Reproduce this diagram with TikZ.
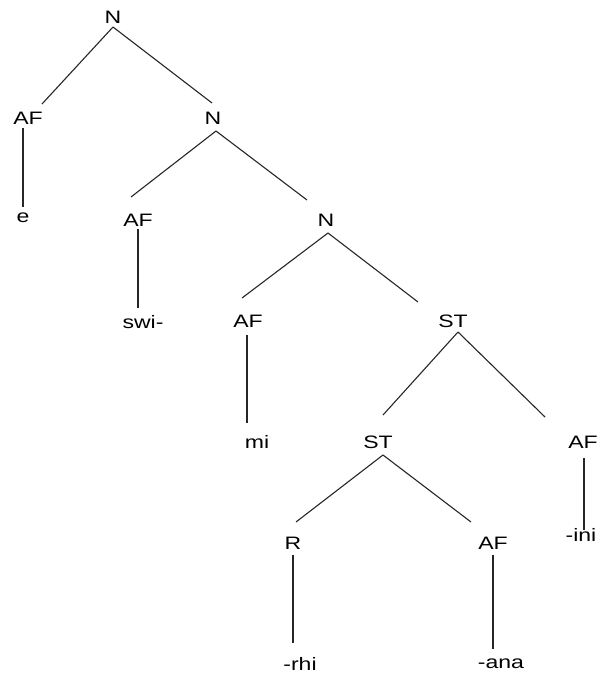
\documentclass[tikz,border=0pt]{standalone}
\usepackage{fontspec}
\setmainfont{Liberation Sans}[FakeStretch=1.28]
\begin{document}
\begin{tikzpicture}[x=1pt,y=-1pt,
  lbl/.style={inner sep=0pt, anchor=center, font=\fontsize{18}{21}\selectfont, text=black},
  edge/.style={draw=black!85, line width=1.1pt}]
\useasboundingbox (0,0) rectangle (598,675);
\node[lbl] (N1) at (113,17) {N};
\node[lbl] (AF1) at (28,118) {AF};
\node[lbl] (N2) at (213,118) {N};
\node[lbl] (e) at (23,218) {e};
\node[lbl] (AF2) at (138,220) {AF};
\node[lbl] (N3) at (326,220) {N};
\node[lbl] (swi) at (143,322) {swi-};
\node[lbl] (AF3) at (248,321) {AF};
\node[lbl] (ST1) at (453,321) {ST};
\node[lbl] (mi) at (257,442) {mi};
\node[lbl] (ST2) at (378,442) {ST};
\node[lbl] (AF4) at (583,442) {AF};
\node[lbl] (R) at (293,543) {R};
\node[lbl] (AF5) at (493,543) {AF};
\node[lbl] (ini) at (581,535) {-ini};
\node[lbl] (rhi) at (300,664) {-rhi};
\node[lbl] (ana) at (501,664) {-ana};

\draw[edge] ([yshift=-10pt]N1.center) -- ([xshift=14pt,yshift=14pt]AF1.center);
\draw[edge] ([yshift=-10pt]N1.center) -- ([xshift=-1pt,yshift=15pt]N2.center);
\draw[edge] ([xshift=-5pt,yshift=-10pt]AF1.center) -- ([yshift=11pt]e.center);
\draw[edge] ([xshift=3pt,yshift=-13pt]N2.center) -- ([xshift=-7pt,yshift=23pt]AF2.center);
\draw[edge] ([xshift=3pt,yshift=-13pt]N2.center) -- ([xshift=-19pt,yshift=20pt]N3.center);
\draw[edge] ([yshift=-9pt]AF2.center) -- ([xshift=-5pt,yshift=14pt]swi.center);
\draw[edge] ([xshift=2pt,yshift=-13pt]N3.center) -- ([xshift=-6pt,yshift=23pt]AF3.center);
\draw[edge] ([xshift=2pt,yshift=-13pt]N3.center) -- ([xshift=-35pt,yshift=19pt]ST1.center);
\draw[edge] ([xshift=-1pt,yshift=-14pt]AF3.center) -- ([xshift=-10pt,yshift=19pt]mi.center);
\draw[edge] ([xshift=5pt,yshift=-11pt]ST1.center) -- ([xshift=5pt,yshift=27pt]ST2.center);
\draw[edge] ([xshift=5pt,yshift=-11pt]ST1.center) -- ([xshift=-38pt,yshift=25pt]AF4.center);
\draw[edge] ([xshift=5pt,yshift=-13pt]ST2.center) -- ([xshift=3pt,yshift=21pt]R.center);
\draw[edge] ([xshift=5pt,yshift=-13pt]ST2.center) -- ([xshift=-22pt,yshift=21pt]AF5.center);
\draw[edge] ([xshift=1pt,yshift=-16pt]AF4.center) -- ([xshift=3pt,yshift=5pt]ini.center);
\draw[edge] ([yshift=-12pt]R.center) -- ([xshift=-7pt,yshift=21pt]rhi.center);
\draw[edge] ([yshift=-12pt]AF5.center) -- ([xshift=-8pt,yshift=15pt]ana.center);
\end{tikzpicture}
\end{document}
